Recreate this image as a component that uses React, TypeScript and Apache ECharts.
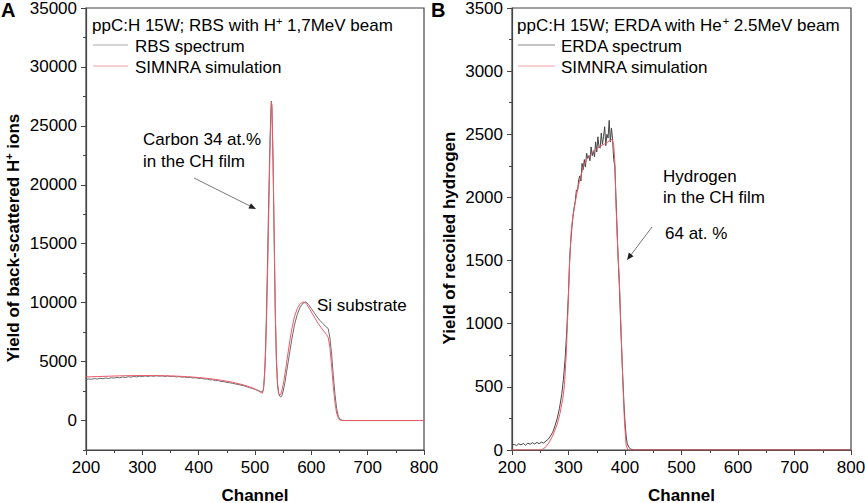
import React, { useEffect, useRef } from "react";
import * as echarts from "echarts";

// ---------- Panel A : RBS ----------
const rbsChannels = [
  200, 205, 210, 215, 220, 225, 230, 235, 240, 245, 250, 255, 260, 265, 270, 275, 280, 285, 290, 295,
  300, 305, 310, 315, 320, 325, 330, 335, 340, 345, 350, 355, 360, 365, 370, 375, 380, 385, 390, 395,
  400, 405, 410, 415, 420, 425, 430, 435, 440, 445, 450, 455, 460, 465, 470, 475, 480, 485, 490, 495,
  500, 505, 510, 513, 515, 516, 518, 520, 522, 524, 526, 528, 529, 530, 532, 534, 536, 538, 540, 542,
  544, 546, 548, 550, 553, 556, 560, 565, 570, 575, 580, 585, 590, 595, 600, 605, 610, 615, 620, 625,
  630, 633, 636, 639, 642, 645, 648, 651, 655, 660, 700, 750, 800,
];
const rbsCounts = [
  3480, 3530, 3500, 3560, 3520, 3580, 3550, 3610, 3570, 3630, 3600, 3660, 3620, 3690, 3650, 3720, 3680, 3740, 3700, 3760,
  3730, 3780, 3740, 3790, 3750, 3800, 3760, 3790, 3740, 3780, 3730, 3760, 3700, 3730, 3680, 3700, 3640, 3670, 3610, 3630,
  3570, 3590, 3520, 3530, 3450, 3460, 3380, 3390, 3310, 3300, 3230, 3210, 3150, 3110, 3060, 3000, 2950, 2870, 2800, 2720,
  2650, 2560, 2470, 2420, 2600, 3200, 5000, 8500, 13000, 18000, 22500, 26000, 27100, 26500, 22000, 15500, 9000, 5000, 3000, 2300,
  2050, 2000, 2150, 2500, 3200, 4100, 5300, 6800, 8100, 9000, 9600, 9950, 10050, 9850, 9500, 9150, 8800, 8500, 8250, 8000,
  7800, 7000, 5600, 3800, 2200, 1000, 350, 100, 20, 0, 0, 0, 0,
];
const simAChannels = [
  200, 220, 240, 260, 280, 300, 320, 340, 360, 380, 400, 420, 440, 460, 480, 495, 505, 510, 513, 515,
  517, 519, 521, 523, 525, 527, 529, 530, 532, 534, 536, 538, 540, 542, 544, 546, 548, 551, 554, 557,
  561, 565, 570, 575, 580, 585, 588, 592, 597, 602, 607, 612, 617, 622, 627, 630, 633, 636, 639, 642,
  645, 648, 651, 655, 700, 800,
];
const simACounts = [
  3700, 3730, 3760, 3790, 3810, 3820, 3815, 3800, 3770, 3720, 3650, 3550, 3420, 3250, 3020, 2780, 2550, 2380, 2320, 2700,
  3800, 6000, 9500, 14000, 19000, 24000, 27000, 26800, 22500, 16000, 9500, 5300, 3200, 2300, 2150, 2250, 2600, 3300, 4200, 5200,
  6500, 7700, 8800, 9500, 9900, 10050, 10050, 9850, 9450, 9050, 8650, 8250, 7900, 7600, 7300, 7050, 6200, 4600, 2900, 1500,
  600, 200, 40, 0, 0, 0,
];
const aYLabels = [0, 5000, 10000, 15000, 20000, 25000, 30000, 35000];
const aYMinor = [-2500, 2500, 7500, 12500, 17500, 22500, 27500, 32500];

// ---------- Panel B : ERDA ----------
const erdaChannels = [
  200, 204, 208, 212, 216, 220, 224, 228, 232, 236, 240, 244, 248, 252, 256, 260, 264, 268, 272, 276,
  280, 284, 288, 291, 294, 297, 300, 302, 304, 306, 308, 310, 312, 314, 316, 318, 320, 322, 324, 326,
  328, 330, 332, 334, 336, 338, 340, 342, 344, 346, 348, 350, 352, 354, 356, 358, 360, 362, 364, 366,
  368, 370, 372, 374, 376, 378, 380, 382, 384, 386, 388, 390, 392, 394, 396, 398, 400, 402, 404, 407,
  410, 415, 420, 800,
];
const erdaCounts = [
  38, 45, 35, 50, 40, 52, 38, 55, 45, 58, 48, 60, 50, 62, 55, 70, 85, 110, 140, 190,
  250, 330, 440, 560, 720, 950, 1250, 1500, 1650, 1760, 1850, 1920, 1970, 2060, 2050, 2140, 2170, 2130, 2270, 2220,
  2300, 2240, 2350, 2310, 2330, 2290, 2400, 2330, 2370, 2320, 2440, 2360, 2480, 2400, 2390, 2510, 2420, 2480, 2560, 2410,
  2500, 2470, 2610, 2440, 2550, 2460, 2300, 2250, 2000, 1750, 1500, 1300, 1050, 800, 580, 380, 220, 110, 50, 20,
  8, 0, 0, 0,
];
const simBChannels = [
  200, 250, 255, 260, 265, 270, 275, 280, 285, 290, 293, 296, 299, 302, 305, 308, 312, 316, 321, 326,
  332, 340, 350, 360, 370, 377, 380, 382, 384, 387, 390, 393, 396, 399, 402, 405, 800,
];
const simBCounts = [
  0, 0, 8, 25, 55, 95, 145, 205, 290, 410, 520, 760, 1100, 1500, 1740, 1860, 1960, 2060, 2160, 2235,
  2300, 2345, 2385, 2415, 2440, 2460, 2420, 2280, 1950, 1600, 1350, 950, 560, 230, 40, 0, 0,
];

const FONT = '"Liberation Sans", Arial, Helvetica, sans-serif';
const RED = "#ec5a68";

const zip = (xs: number[], ys: number[]) => xs.map((x, i) => [x, ys[i]]);
const plain = (v: number) => String(v);

export default function App() {
  const ref = useRef<HTMLDivElement>(null);
  useEffect(() => {
    document.body.style.margin = "0";
    const chart = echarts.init(ref.current!, null, { renderer: "svg" });
    const axisLine = { show: true, onZero: false, lineStyle: { color: "#444", width: 1.2 } };
    const labelStyle = { color: "#000", fontSize: 17, lineHeight: 14, fontFamily: FONT, formatter: plain };
    const nameStyle = { color: "#000", fontSize: 17, fontWeight: "bold" as const, fontFamily: FONT };
    const xAxisBase = (gridIndex: number) => ({
      type: "value" as const,
      gridIndex,
      min: 200,
      max: 800,
      interval: 100,
      name: "Channel",
      nameLocation: "middle" as const,
      nameGap: 38,
      nameTextStyle: { ...nameStyle, lineHeight: 14 },
      axisLine,
      axisTick: { show: true, length: 5, lineStyle: { color: "#444" } },
      minorTick: { show: true, splitNumber: 2, length: 3, lineStyle: { color: "#444" } },
      axisLabel: { ...labelStyle, margin: 10 },
      splitLine: { show: false },
    });
    const option: any = {
      animation: false,
      backgroundColor: "#fff",
      textStyle: { fontFamily: FONT },
      grid: [
        { left: 86, top: 8, width: 338, height: 442, outerBoundsMode: "none", containLabel: false, show: true, borderColor: "#444", borderWidth: 1.2, backgroundColor: "transparent" },
        { left: 512, top: 8, width: 339, height: 442, outerBoundsMode: "none", containLabel: false, show: true, borderColor: "#444", borderWidth: 1.2, backgroundColor: "transparent" },
      ],
      xAxis: [xAxisBase(0), xAxisBase(1)],
      yAxis: [
        {
          type: "value",
          gridIndex: 0,
          position: "left",
          min: -2500,
          max: 35000,
          interval: 2500,
          name: "{n|Yield of back-scattered H}{s|+}{n| ions}",
          nameLocation: "middle",
          nameGap: 63,
          nameTextStyle: {
            ...nameStyle,
            padding: [0, 18, 0, 0],
            rich: {
              n: { fontSize: 17, fontWeight: "bold", fontFamily: FONT, color: "#000", lineHeight: 20 },
              s: { fontSize: 11, fontWeight: "bold", fontFamily: FONT, color: "#000", lineHeight: 20, verticalAlign: "top" },
            },
          },
          axisLine,
          axisTick: { show: true, length: 5, customValues: aYLabels, lineStyle: { color: "#444" } },
          axisLabel: { ...labelStyle, margin: 9, customValues: aYLabels },
          splitLine: { show: false },
        },
        {
          type: "value",
          gridIndex: 0,
          position: "left",
          offset: 0,
          min: -2500,
          max: 35000,
          interval: 2500,
          axisLine: { show: false, onZero: false },
          axisTick: { show: true, length: 3, customValues: aYMinor, lineStyle: { color: "#444" } },
          axisLabel: { show: false },
          splitLine: { show: false },
        },
        {
          type: "value",
          gridIndex: 1,
          position: "left",
          min: 0,
          max: 3500,
          interval: 500,
          name: "Yield of recoiled hydrogen",
          nameLocation: "middle",
          nameGap: 54,
          nameTextStyle: { ...nameStyle, padding: [0, 18, 0, 0] },
          axisLine,
          axisTick: { show: true, length: 5, lineStyle: { color: "#444" } },
          minorTick: { show: true, splitNumber: 2, length: 3, lineStyle: { color: "#444" } },
          axisLabel: { ...labelStyle, margin: 9 },
          splitLine: { show: false },
        },
      ],
      series: [
        {
          name: "RBS spectrum",
          type: "line",
          xAxisIndex: 0,
          yAxisIndex: 0,
          data: zip(rbsChannels, rbsCounts),
          showSymbol: false,
          lineStyle: { color: "#6a6a6a", width: 1 },
        },
        {
          name: "SIMNRA simulation",
          type: "line",
          xAxisIndex: 0,
          yAxisIndex: 0,
          data: zip(simAChannels, simACounts),
          showSymbol: false,
          lineStyle: { color: RED, width: 1 },
        },
        {
          name: "ERDA spectrum",
          type: "line",
          xAxisIndex: 1,
          yAxisIndex: 2,
          data: zip(erdaChannels, erdaCounts),
          showSymbol: false,
          lineStyle: { color: "#444", width: 1 },
        },
        {
          name: "SIMNRA simulation",
          type: "line",
          xAxisIndex: 1,
          yAxisIndex: 2,
          data: zip(simBChannels, simBCounts),
          showSymbol: false,
          lineStyle: { color: RED, width: 1 },
        },
      ],
      graphic: [
        // panel letters
        { type: "text", left: 1, top: 0, style: { text: "A", fontSize: 20, fontWeight: "bold", fontFamily: FONT, fill: "#000" } },
        { type: "text", left: 431, top: 0, style: { text: "B", fontSize: 20, fontWeight: "bold", fontFamily: FONT, fill: "#000" } },
        // panel A legend
        {
          type: "text",
          x: 92,
          y: 25,
          style: {
            text: "{n|ppC:H 15W; RBS with H}{s|+}{n| 1,7MeV beam}",
            verticalAlign: "middle",
            rich: {
              n: { fontSize: 17, fontFamily: FONT, fill: "#000", lineHeight: 20 },
              s: { fontSize: 11, fontFamily: FONT, fill: "#000", lineHeight: 20, verticalAlign: "top" },
            },
          },
        },
        { type: "line", shape: { x1: 93, y1: 45, x2: 128, y2: 45 }, style: { stroke: "#aaa", lineWidth: 1 } },
        { type: "text", x: 135, y: 46, style: { text: "RBS spectrum", fontSize: 17, fontFamily: FONT, fill: "#000", verticalAlign: "middle" } },
        { type: "line", shape: { x1: 93, y1: 66, x2: 128, y2: 66 }, style: { stroke: "#f4a0a8", lineWidth: 1 } },
        { type: "text", x: 135, y: 67, style: { text: "SIMNRA simulation", fontSize: 17, fontFamily: FONT, fill: "#000", verticalAlign: "middle" } },
        // panel A annotations
        { type: "text", x: 143, y: 139, style: { text: "Carbon 34 at.%", fontSize: 17, fontFamily: FONT, fill: "#000", verticalAlign: "middle" } },
        { type: "text", x: 143, y: 161, style: { text: "in the CH film", fontSize: 17, fontFamily: FONT, fill: "#000", verticalAlign: "middle" } },
        { type: "line", shape: { x1: 194, y1: 178, x2: 251, y2: 206.5 }, style: { stroke: "#555", lineWidth: 0.8 } },
        { type: "polygon", shape: { points: [[256, 209], [248.4, 208.6], [251.0, 203.2]] }, style: { fill: "#222" } },
        { type: "text", x: 317, y: 305, style: { text: "Si substrate", fontSize: 17, fontFamily: FONT, fill: "#000", verticalAlign: "middle" } },
        // panel B legend
        {
          type: "text",
          x: 517,
          y: 25,
          style: {
            text: "{n|ppC:H 15W; ERDA with He}{s|+}{n| 2.5MeV beam}",
            verticalAlign: "middle",
            rich: {
              n: { fontSize: 17, fontFamily: FONT, fill: "#000", lineHeight: 20 },
              s: { fontSize: 11, fontFamily: FONT, fill: "#000", lineHeight: 20, verticalAlign: "top" },
            },
          },
        },
        { type: "line", shape: { x1: 518, y1: 45, x2: 555, y2: 45 }, style: { stroke: "#888", lineWidth: 1 } },
        { type: "text", x: 561, y: 46, style: { text: "ERDA spectrum", fontSize: 17, fontFamily: FONT, fill: "#000", verticalAlign: "middle" } },
        { type: "line", shape: { x1: 518, y1: 66, x2: 555, y2: 66 }, style: { stroke: "#f4a0a8", lineWidth: 1 } },
        { type: "text", x: 561, y: 67, style: { text: "SIMNRA simulation", fontSize: 17, fontFamily: FONT, fill: "#000", verticalAlign: "middle" } },
        // panel B annotations
        { type: "text", x: 663, y: 176, style: { text: "Hydrogen", fontSize: 17, fontFamily: FONT, fill: "#000", verticalAlign: "middle" } },
        { type: "text", x: 663, y: 197, style: { text: "in the CH film", fontSize: 17, fontFamily: FONT, fill: "#000", verticalAlign: "middle" } },
        { type: "text", x: 665, y: 233, style: { text: "64 at. %", fontSize: 17, fontFamily: FONT, fill: "#000", verticalAlign: "middle" } },
        { type: "line", shape: { x1: 652, y1: 227, x2: 630.5, y2: 255.5 }, style: { stroke: "#555", lineWidth: 0.8 } },
        { type: "polygon", shape: { points: [[627, 260], [628.8, 252.6], [633.6, 256.2]] }, style: { fill: "#222" } },
      ],
    };
    chart.setOption(option);
    return () => chart.dispose();
  }, []);
  return <div ref={ref} style={{ width: 865, height: 503 }} />;
}
